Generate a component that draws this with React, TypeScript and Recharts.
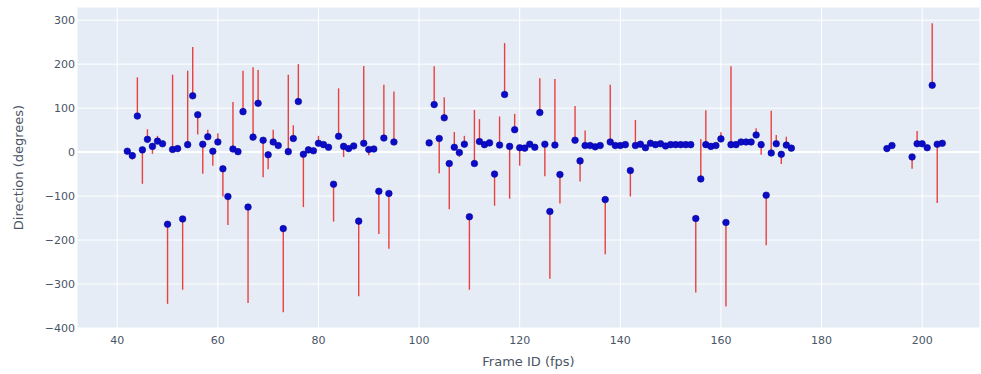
import React from "react";
import {
  ScatterChart,
  Scatter,
  XAxis,
  YAxis,
  CartesianGrid,
  ErrorBar,
  ReferenceLine,
  Label,
} from "recharts";

// Frame numbers (x) and measured direction in degrees (y)
const frames = [
  42, 43, 44, 45, 46, 47, 48, 49, 50, 51, 52, 53, 54, 55, 56, 57, 58, 59, 60, 61,
  62, 63, 64, 65, 66, 67, 68, 69, 70, 71, 72, 73, 74, 75, 76, 77, 78, 79, 80, 81,
  82, 83, 84, 85, 86, 87, 88, 89, 90, 91, 92, 93, 94, 95,
  102, 103, 104, 105, 106, 107, 108, 109, 110, 111, 112, 113, 114, 115, 116, 117,
  118, 119, 120, 121, 122, 123, 124, 125, 126, 127, 128,
  131, 132, 133, 134, 135, 136, 137, 138, 139, 140, 141, 142, 143, 144, 145, 146,
  147, 148, 149, 150, 151, 152, 153, 154, 155, 156, 157, 158, 159, 160, 161, 162,
  163, 164, 165, 166, 167, 168, 169, 170, 171, 172, 173, 174,
  193, 194, 198, 199, 200, 201, 202, 203, 204,
];

const directions = [
  2, -8, 82, 5, 29, 13, 25, 19, -164, 6, 8, -152, 17, 128, 85, 18, 35, 2, 23, -38,
  -101, 7, 1, 92, -125, 34, 111, 27, -6, 23, 15, -174, 1, 31, 115, -5, 5, 3, 20, 17,
  11, -73, 36, 13, 8, 14, -157, 20, 6, 7, -89, 32, -94, 23,
  21, 108, 31, 78, -26, 11, -1, 18, -147, -26, 24, 17, 21, -50, 16, 131,
  13, 51, 10, 9, 18, 11, 90, 18, -135, 16, -51,
  27, -20, 15, 15, 12, 15, -108, 23, 15, 15, 17, -42, 15, 18, 10, 20,
  17, 19, 14, 17, 17, 17, 17, 17, -151, -61, 17, 13, 15, 30, -160, 17,
  17, 23, 23, 23, 39, 17, -98, -2, 19, -5, 16, 9,
  8, 15, -11, 19, 19, 10, 152, 18, 20,
];

// Far end of each spread line, in degrees (equal to the direction when there is none)
const spreadEnds = [
  2, -17, 170, -72, 52, -4, 37, 19, -345, 176, 8, -313, 185, 239, 40, -49, 51, -31, 43, -101,
  -166, 114, 1, 185, -343, 193, 187, -57, -39, 51, 15, -364, 176, 61, 200, -125, 13, 3, 37, 17,
  11, -158, 145, -11, 8, 14, -328, 196, -7, 7, -186, 153, -220, 138,
  21, 195, -48, 125, -130, 46, -11, 37, -313, 96, 75, 17, 21, -122, 81, 248,
  -106, 87, -31, 9, 18, 11, 168, -55, -288, 166, -117,
  105, -67, 49, 15, 12, 15, -232, 153, 8, 15, 17, -101, 73, 18, 10, 28,
  17, 19, 14, 17, 17, 17, 17, 17, -319, 30, 95, 13, 15, 45, -351, 195,
  17, 23, 23, 23, 54, -6, -212, 94, 39, -27, 35, 9,
  8, 15, -38, 48, 19, 10, 293, -116, 20,
];

const xTicks = [40, 60, 80, 100, 120, 140, 160, 180, 200];
const yTicks = [-400, -300, -200, -100, 0, 100, 200, 300];

const rows = frames.map((frame, i) => {
  const y = directions[i];
  const end = spreadEnds[i];
  return {
    frame,
    direction: y,
    spread: end >= y ? [0, end - y] : [y - end, 0],
  };
});

const FONT = "'DejaVu Sans', Verdana, sans-serif";
const TICK_STYLE = { fontSize: 11, fill: "#4a5566", fontFamily: FONT };

const fmt = (v: number) => (v < 0 ? "\u2212" + Math.abs(v) : String(v));

const Dot = (props: any) => {
  const { cx, cy } = props;
  if (cx == null || cy == null) return null;
  return <circle cx={cx} cy={cy} r={3.3} fill="#0b0bc8" stroke="#07079a" strokeWidth={0.6} />;
};

const YTitle = (props: any) => {
  const vb = props.viewBox || {};
  const x = (vb.x ?? 0) + 18;
  const y = (vb.y ?? 0) + (vb.height ?? 0) / 2;
  return (
    <text
      x={x}
      y={y}
      transform={`rotate(-90 ${x} ${y})`}
      textAnchor="middle"
      dominantBaseline="central"
      fontSize={13}
      fontFamily={FONT}
      fill="#4a5566"
    >
      Direction (degrees)
    </text>
  );
};

export default function App() {
  return (
    <div style={{ position: "absolute", left: 0, top: 0, background: "#fff" }}>
      <ScatterChart
        width={981}
        height={374}
        margin={{ top: 7, right: 1, bottom: 0, left: 0 }}
      >
        <CartesianGrid stroke="#ffffff" fill="#E5ECF6" fillOpacity={1} />
        <XAxis
          type="number"
          dataKey="frame"
          domain={[32, 211.5]}
          ticks={xTicks}
          allowDataOverflow
          axisLine={false}
          tickLine={false}
          tickSize={6}
          tickMargin={2}
          height={46}
          tick={TICK_STYLE}
        >
          <Label
            value="Frame ID (fps)"
            position="insideBottom"
            offset={8}
            style={{ fontSize: 13, fontFamily: FONT, fill: "#4a5566" }}
          />
        </XAxis>
        <YAxis
          type="number"
          dataKey="direction"
          domain={[-400, 330]}
          ticks={yTicks}
          allowDataOverflow
          axisLine={false}
          tickLine={false}
          tickSize={0}
          tickMargin={2}
          width={77}
          tick={TICK_STYLE}
          tickFormatter={fmt}
        >
          <Label content={<YTitle />} />
        </YAxis>
        <ReferenceLine y={0} stroke="#ffffff" strokeWidth={2} />
        <Scatter data={rows} shape={<Dot />} isAnimationActive={false}>
          <ErrorBar
            dataKey="spread"
            direction="y"
            width={0}
            stroke="#e8413f"
            strokeWidth={1.4}
            isAnimationActive={false}
          />
        </Scatter>
      </ScatterChart>
    </div>
  );
}
